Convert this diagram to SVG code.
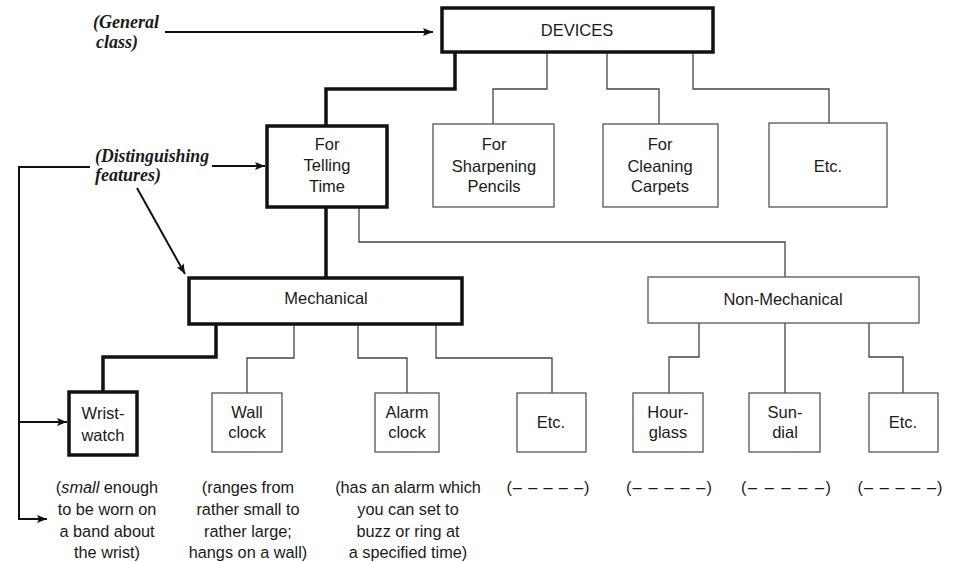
<svg xmlns="http://www.w3.org/2000/svg" width="956" height="562" viewBox="0 0 956 562">
<defs>
<marker id="ah" viewBox="0 0 10 8" refX="10" refY="4" markerWidth="10" markerHeight="8" markerUnits="userSpaceOnUse" orient="auto">
<path d="M0,0 L10,4 L0,8 L2,4 Z" fill="#111"/>
</marker>
</defs>
<style>
.thick{fill:#fff;stroke:#111;stroke-width:3.5}
.thin{fill:#fff;stroke:#555;stroke-width:1.3}
.lbl{font-family:"Liberation Sans",Arial,sans-serif;font-size:16.5px;fill:#1a1a1a;text-anchor:middle}
.desc{font-family:"Liberation Sans",Arial,sans-serif;font-size:16.3px;fill:#1a1a1a;text-anchor:middle}
.note{font-family:"Liberation Serif","Times New Roman",serif;font-size:18px;font-style:italic;font-weight:bold;fill:#1a1a1a}
.cthick{fill:none;stroke:#111;stroke-width:3.5}
.cthin{fill:none;stroke:#444;stroke-width:1.3}
.arr{fill:none;stroke:#111;stroke-width:2}
</style>

<g id="connectors">
<path class="cthick" d="M455,52 V89 H326 V126"/>
<path class="cthin" d="M547,52 V89 H493 V124"/>
<path class="cthin" d="M607,52 V89 H659 V124"/>
<path class="cthin" d="M693,52 V89 H829 V123"/>
<path class="cthick" d="M326,207 V278"/>
<path class="cthin" d="M359,207 V242 H785 V277"/>
<path class="cthick" d="M216,324 V357 H103 V392"/>
<path class="cthin" d="M294,324 V358 H247 V393"/>
<path class="cthin" d="M358,324 V358 H407 V393"/>
<path class="cthin" d="M436,324 V358 H552 V393"/>
<path class="cthin" d="M699,323 V357 H669 V393"/>
<path class="cthin" d="M785,323 V393"/>
<path class="cthin" d="M869,323 V357 H903 V393"/>
<path class="arr" d="M165,32 H433" marker-end="url(#ah)"/>
<path class="arr" d="M212,166 H265" marker-end="url(#ah)"/>
<path class="arr" d="M90,167 H19 V519 H47" marker-end="url(#ah)"/>
<path class="arr" d="M19,422 H67" marker-end="url(#ah)"/>
<path class="arr" d="M137,188 L185,274" marker-end="url(#ah)"/>
</g>

<g id="note-general">
<text class="note" x="93" y="28">(General</text>
<text class="note" x="96" y="48">class)</text>
</g>
<g id="note-distinguishing">
<text class="note" x="95" y="162" textLength="114" lengthAdjust="spacingAndGlyphs">(Distinguishing</text>
<text class="note" x="95" y="181">features)</text>
</g>

<g id="devices">
<rect class="thick" x="442" y="8" width="271" height="44"/>
<text class="lbl" x="577" y="36">DEVICES</text>
</g>
<g id="telling-time">
<rect class="thick" x="267" y="126" width="120" height="81"/>
<text class="lbl" x="327" y="150">For</text>
<text class="lbl" x="327" y="171">Telling</text>
<text class="lbl" x="327" y="192">Time</text>
</g>
<g id="sharpening">
<rect class="thin" x="433" y="124" width="121" height="83"/>
<text class="lbl" x="494" y="150">For</text>
<text class="lbl" x="494" y="172">Sharpening</text>
<text class="lbl" x="494" y="192">Pencils</text>
</g>
<g id="cleaning">
<rect class="thin" x="603" y="124" width="115" height="83"/>
<text class="lbl" x="660" y="150">For</text>
<text class="lbl" x="660" y="172">Cleaning</text>
<text class="lbl" x="660" y="192">Carpets</text>
</g>
<g id="etc-top">
<rect class="thin" x="769" y="123" width="118" height="84"/>
<text class="lbl" x="828" y="172">Etc.</text>
</g>
<g id="mechanical">
<rect class="thick" x="189" y="278" width="273" height="46"/>
<text class="lbl" x="326" y="304">Mechanical</text>
</g>
<g id="non-mechanical">
<rect class="thin" x="648" y="277" width="271" height="46"/>
<text class="lbl" x="783" y="305">Non-Mechanical</text>
</g>
<g id="wristwatch">
<rect class="thick" x="69" y="392" width="68" height="63"/>
<text class="lbl" x="103" y="419">Wrist-</text>
<text class="lbl" x="103" y="441">watch</text>
</g>
<g id="wall-clock">
<rect class="thin" x="212" y="393" width="70" height="59"/>
<text class="lbl" x="247" y="418">Wall</text>
<text class="lbl" x="247" y="438">clock</text>
</g>
<g id="alarm-clock">
<rect class="thin" x="375" y="393" width="64" height="59"/>
<text class="lbl" x="407" y="418">Alarm</text>
<text class="lbl" x="407" y="438">clock</text>
</g>
<g id="etc-mech">
<rect class="thin" x="517" y="393" width="69" height="59"/>
<text class="lbl" x="551" y="428">Etc.</text>
</g>
<g id="hourglass">
<rect class="thin" x="633" y="393" width="70" height="59"/>
<text class="lbl" x="668" y="418">Hour-</text>
<text class="lbl" x="668" y="438">glass</text>
</g>
<g id="sundial">
<rect class="thin" x="749" y="393" width="71" height="59"/>
<text class="lbl" x="785" y="418">Sun-</text>
<text class="lbl" x="785" y="438">dial</text>
</g>
<g id="etc-nonmech">
<rect class="thin" x="869" y="393" width="69" height="59"/>
<text class="lbl" x="903" y="428">Etc.</text>
</g>

<g id="descriptions">
<text class="desc" x="107" y="493">(<tspan font-style="italic">small</tspan> enough</text>
<text class="desc" x="107" y="515">to be worn on</text>
<text class="desc" x="107" y="537">a band about</text>
<text class="desc" x="107" y="558">the wrist)</text>
<text class="desc" x="248" y="493">(ranges  from</text>
<text class="desc" x="248" y="515">rather small to</text>
<text class="desc" x="248" y="537">rather large;</text>
<text class="desc" x="248" y="558">hangs on a wall)</text>
<text class="desc" x="408" y="493">(has an alarm which</text>
<text class="desc" x="408" y="515">you can set to</text>
<text class="desc" x="408" y="537">buzz or ring at</text>
<text class="desc" x="408" y="558">a specified time)</text>
<text class="desc" x="548" y="493" textLength="83" lengthAdjust="spacing">(– – – – –)</text>
<text class="desc" x="669" y="493" textLength="86" lengthAdjust="spacing">(– – – – –)</text>
<text class="desc" x="786" y="493" textLength="90" lengthAdjust="spacing">(– – – – –)</text>
<text class="desc" x="900" y="493" textLength="85" lengthAdjust="spacing">(– – – – –)</text>
</g>
</svg>
